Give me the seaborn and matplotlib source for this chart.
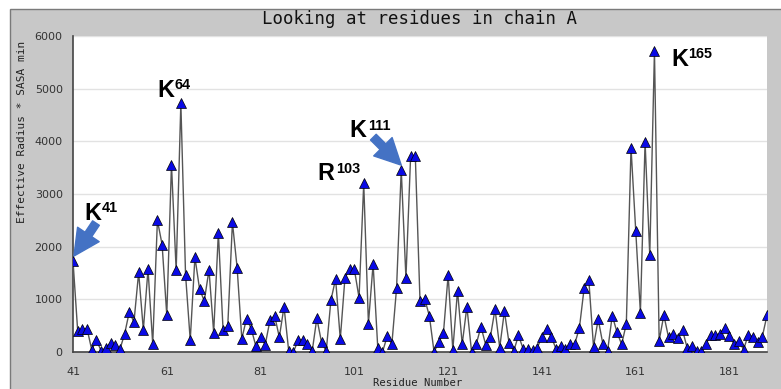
import matplotlib
matplotlib.use("Agg")
import matplotlib.pyplot as plt
import seaborn as sns
import pandas as pd
from matplotlib.patches import Rectangle, FancyArrowPatch, ArrowStyle
from matplotlib.ticker import MultipleLocator

# ---------------- data ----------------
residues = list(range(41, 190))
values = [
    1730, 400, 440, 440, 40, 230, 20, 80, 170, 130,          # 41-50
    50, 340, 760, 570, 1510, 420, 1570, 150, 2500, 2040,     # 51-60
    700, 3560, 1550, 4720, 1470, 225, 1800, 1190, 970, 1560, # 61-70
    370, 2265, 425, 485, 2460, 1600, 250, 635, 445, 110,     # 71-80
    290, 140, 600, 690, 280, 860, 20, 0, 220, 230,           # 81-90
    150, 10, 640, 185, 15, 980, 1390, 245, 1410, 1570,       # 91-100
    1570, 1030, 3200, 540, 1670, 70, 0, 295, 150, 1210,      # 101-110
    3460, 1405, 3720, 3720, 970, 1010, 683, 0, 185, 360,     # 111-120
    1460, 40, 1165, 150, 860, 0, 150, 481, 140, 278,         # 121-130
    815, 85, 775, 165, 20, 316, 60, 60, 40, 80,              # 131-140
    291, 443, 291, 60, 120, 60, 152, 152, 462, 1210,         # 141-150
    1366, 101, 622, 152, 20, 690, 380, 145, 535, 3880,       # 151-160
    2300, 746, 3990, 1834, 5720, 215, 700, 278, 345, 266,    # 161-170
    410, 70, 110, 15, 15, 152, 325, 325, 348, 465,           # 171-180
    304, 152, 215, 45, 325, 291, 198, 291, 695,              # 181-189
]

x_ticks = [41, 61, 81, 101, 121, 141, 161, 181]
y_ticks = [0, 1000, 2000, 3000, 4000, 5000, 6000]

title = "Looking at residues in chain A"
x_label = "Residue Number"
y_label = "Effective Radius * SASA min"

peak_residues = [41, 64, 103, 111, 165]
peak_letters = ["K", "K", "R", "K", "K"]
peak_sups = ["41", "64", "103", "111", "165"]

arrow_tails = [(45.9, 2448), (105.05, 4080)]
arrow_tips = [(41.2, 1822), (111.0, 3548)]

# ---------------- style ----------------
sns.set_theme(style="white")
plt.rcParams["font.family"] = ["DejaVu Sans"]

W, H = 781, 389
fig = plt.figure(figsize=(W / 100, H / 100), dpi=100)
fig.patch.set_facecolor("white")

panel = Rectangle((10 / W, -0.05), 1.0, (H - 9) / H + 0.05,
                  transform=fig.transFigure, facecolor="#c8c8c8",
                  edgecolor="#7a7a7a", lw=1.0, zorder=-10)
fig.patches.append(panel)

ax = fig.add_axes([73 / W, 37 / H, 694 / W, 316 / H])
ax.set_zorder(1)
ax.set_facecolor("white")

df = pd.DataFrame({"residue": residues, "value": values})
sns.lineplot(data=df, x="residue", y="value", ax=ax, color="#555555",
             lw=1.0, marker="^", markersize=6.8, markerfacecolor="#0a0ae6",
             markeredgecolor="black", markeredgewidth=0.5, zorder=3)

ax.set_xlim(41, 189)
ax.set_ylim(0, 6000)
ax.set_xticks(x_ticks)
ax.set_yticks(y_ticks)
ax.yaxis.set_minor_locator(MultipleLocator(500))
ax.set_xlabel("")
ax.set_ylabel("")

ax.tick_params(axis="both", which="both", direction="in", length=3,
               width=1, color="#444444", labelcolor="#333333", labelsize=8)
ax.tick_params(axis="x", pad=10.6)
ax.tick_params(axis="y", pad=7.4)
ax.yaxis.grid(True, color="#e2e2e2", lw=1.0)
ax.xaxis.grid(False)
ax.set_axisbelow(True)
for s in ["top", "right"]:
    ax.spines[s].set_visible(False)
for s in ["left", "bottom"]:
    ax.spines[s].set_color("#444444")
    ax.spines[s].set_linewidth(1.2)

fig.text(420 / W, 1 - 19 / H, title, ha="center", va="center",
         family="DejaVu Sans Mono", fontsize=12.5, color="#111111")
fig.text(22 / W, 1 - 131.5 / H, y_label, rotation=90, ha="center",
         va="center", family="DejaVu Sans Mono", fontsize=8, color="#222222")
fig.text(418 / W, 1 - 378.5 / H, x_label, ha="center", va="top",
         family="DejaVu Sans Mono", fontsize=7.6, color="#222222")

# label offsets in pixels relative to each peak (letter dx, dy, sup dx, dy)
offsets = [(11, 40.7, 28.7, 49), (-23.5, 6, -6, 14), (-46.5, 3.3, -28, 10.6),
           (-51.5, 32.7, -33, 40), (17, -15.4, 34, -7)]
px2pt = 0.72
for r, let, sup, (ldx, ldy, sdx, sdy) in zip(peak_residues, peak_letters,
                                            peak_sups, offsets):
    v = values[residues.index(r)]
    ax.annotate(let, xy=(r, v), xytext=(ldx * px2pt, ldy * px2pt),
                textcoords="offset points", ha="left", va="baseline",
                fontsize=16.8, fontweight="bold", family="Liberation Sans",
                color="black", annotation_clip=False, zorder=6)
    ax.annotate(sup, xy=(r, v), xytext=(sdx * px2pt, sdy * px2pt),
                textcoords="offset points", ha="left", va="baseline",
                fontsize=10.4, fontweight="bold", family="Liberation Sans",
                color="black", annotation_clip=False, zorder=6)

style = ArrowStyle.Simple(head_length=18.7, head_width=18.7, tail_width=5.8)
for tail, tip in zip(arrow_tails, arrow_tips):
    arr = FancyArrowPatch(posA=tail, posB=tip, arrowstyle=style,
                          mutation_scale=1, color="#4472c4", shrinkA=0,
                          shrinkB=0, zorder=5, transform=ax.transData)
    ax.add_patch(arr)

fig.savefig("out.png", dpi=100)
